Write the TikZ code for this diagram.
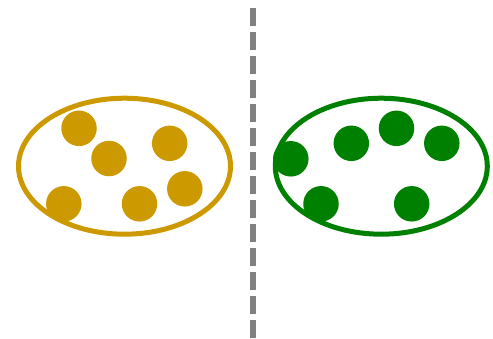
\documentclass[tikz,border=0pt]{standalone}
\definecolor{gold}{RGB}{204,153,0}
\definecolor{grn}{RGB}{0,128,0}
\definecolor{midgray}{RGB}{128,128,128}
\tikzset{
  dot/.style={circle, inner sep=0pt, minimum size=35.5pt},
  golddot/.style={dot, fill=gold},
  greendot/.style={dot, fill=grn},
  setring/.style={line width=5pt},
}
\begin{document}
\begin{tikzpicture}[x=1pt,y=-1pt]
\useasboundingbox (0,0) rectangle (493,338);
% divider
\coordinate (top) at (252.7,7.5);
\coordinate (bot) at (252.7,338);
\draw[midgray, line width=6pt, dash pattern=on 18pt off 6pt] (top) -- (bot);
% left set
\draw[gold, setring] (124.5,166.2) ellipse [x radius=106, y radius=68];
\node[golddot] (l1) at (79,128.3) {};
\node[golddot] (l2) at (109,158.5) {};
\node[golddot] (l3) at (169.7,143.3) {};
\node[golddot] (l4) at (63.8,203.8) {};
\node[golddot] (l5) at (139.5,203.8) {};
\node[golddot] (l6) at (184.8,188.8) {};
% right set
\draw[grn, setring] (381.3,166.2) ellipse [x radius=106, y radius=68];
\node[greendot] (r1) at (290.8,158.8) {};
\node[greendot] (r2) at (351.3,143.3) {};
\node[greendot] (r3) at (396.5,128.3) {};
\node[greendot] (r4) at (441.8,143.3) {};
\node[greendot] (r5) at (321,203.8) {};
\node[greendot] (r6) at (411.7,203.8) {};
\end{tikzpicture}
\end{document}
